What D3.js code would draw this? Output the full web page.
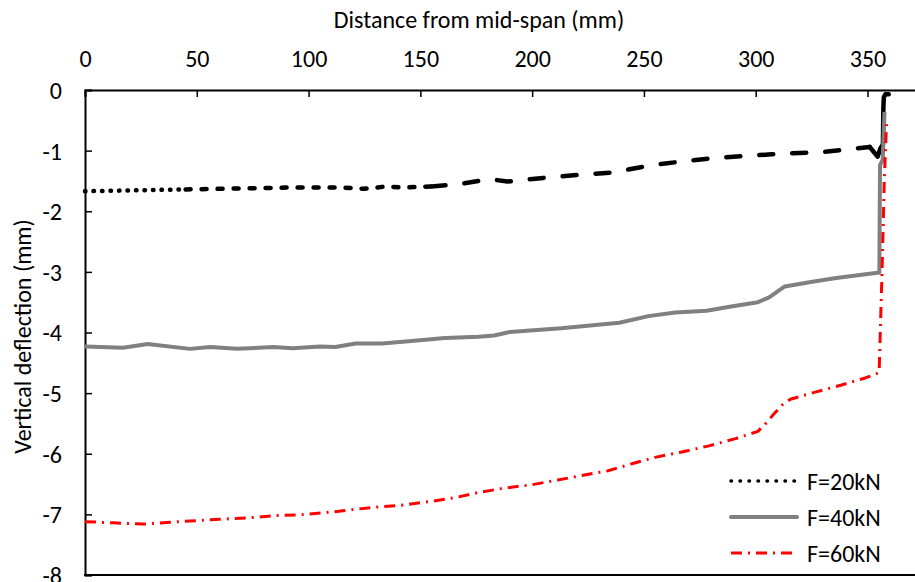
<!DOCTYPE html>
<html>
<head>
<meta charset="utf-8">
<script src="https://cdn.jsdelivr.net/npm/d3@7"></script>
<style>
  body { margin: 0; background: #fff; }
  svg { display: block; font-family: Carlito, Calibri, Lato, sans-serif; }
  .tick-label { font-size: 24px; fill: #000; }
  .axis-title { font-size: 24px; fill: #000; }
  .legend-label { font-size: 24px; fill: #000; }
</style>
</head>
<body>
<div id="chart"></div>
<script>

/*
----------------------------------------------------------------------------------------
--- DATA
----------------------------------------------------------------------------------------
*/

var seriesNames = ['F=20kN', 'F=40kN', 'F=60kN'];

// F=20kN: distance from mid-span (mm) and vertical deflection (mm)
var distF20 = [0, 15, 30, 45, 60, 75, 90, 105, 115, 125, 135, 142, 155, 168, 181, 189, 205, 221, 236, 255, 279, 307, 331, 351, 354.5, 355.8, 356.9, 357.1, 357.3, 358, 359.5];
var defF20 = [-1.67, -1.66, -1.65, -1.64, -1.63, -1.62, -1.61, -1.61, -1.61, -1.63, -1.59, -1.61, -1.59, -1.55, -1.47, -1.51, -1.45, -1.40, -1.36, -1.23, -1.13, -1.06, -1.02, -0.94, -1.10, -0.96, -0.90, -0.30, -0.12, -0.07, -0.07];

// F=40kN
var distF40 = [0, 17, 28, 47, 56, 68, 84, 93, 105, 112, 121, 133, 146, 161, 176, 183, 190, 213, 239, 252, 264, 278, 289, 301, 306, 313, 324, 336, 355.3, 355.6, 356.8, 357.6];
var defF40 = [-4.23, -4.25, -4.19, -4.27, -4.24, -4.27, -4.24, -4.26, -4.23, -4.24, -4.18, -4.18, -4.14, -4.09, -4.07, -4.05, -3.99, -3.93, -3.84, -3.73, -3.67, -3.64, -3.57, -3.50, -3.42, -3.24, -3.17, -3.10, -3.01, -1.24, -1.15, -0.36];

// F=60kN
var distF60 = [0, 12.6, 26, 38, 47, 60, 72, 86, 95, 108, 120, 130, 141, 154, 166, 176, 187, 200, 212, 222, 234, 245, 255, 267, 279, 291, 301, 304, 308, 312, 315.5, 327, 338, 349, 354, 355.2, 356.5, 357.5, 358.5];
var defF60 = [-7.12, -7.14, -7.16, -7.13, -7.11, -7.08, -7.06, -7.02, -7.01, -6.97, -6.92, -6.88, -6.85, -6.79, -6.72, -6.64, -6.57, -6.51, -6.43, -6.36, -6.28, -6.16, -6.06, -5.97, -5.87, -5.75, -5.63, -5.52, -5.35, -5.19, -5.10, -4.98, -4.87, -4.75, -4.68, -4.66, -3.00, -1.50, -0.55];

// axis ticks
var xTicks = [0, 50, 100, 150, 200, 250, 300, 350];
var yTicks = [0, -1, -2, -3, -4, -5, -6, -7, -8];


/*
----------------------------------------------------------------------------------------
--- PROPERTIES
----------------------------------------------------------------------------------------
*/

var width = 915;
var height = 582;
var plot = {'left': 85, 'top': 90, 'bottom': 575}; // plot area, right side runs off the picture
var tickSize = 7;

var x = d3.scaleLinear().domain([0, 400]).range([plot.left, plot.left + 400 * (867.5 - plot.left) / 350]);
var y = d3.scaleLinear().domain([0, -8]).range([plot.top, plot.bottom]);

var zip = function(xs, ys) {
  return xs.map(function(d, i) { return {'x': d, 'y': ys[i]}; });
};

var line = d3.line()
  .x(function(d) { return x(d.x); })
  .y(function(d) { return y(d.y); });

var svg = d3.select('#chart').append('svg')
  .attr('width', width)
  .attr('height', height);


/*
----------------------------------------------------------------------------------------
--- AXES
----------------------------------------------------------------------------------------
*/

// top axis (x axis crosses at 0)
var xAxis = svg.append('g')
  .attr('transform', 'translate(0,' + plot.top + ')')
  .call(d3.axisTop(x).tickValues(xTicks).tickSize(-tickSize).tickPadding(23).tickFormat(function(d) { return String(d); }));

var yAxis = svg.append('g')
  .attr('transform', 'translate(' + plot.left + ',0)')
  .call(d3.axisLeft(y).tickValues(yTicks).tickSize(-tickSize).tickPadding(23).tickFormat(function(d) { return String(d); }));

[xAxis, yAxis].forEach(function(ax) {
  ax.attr('font-family', null).attr('font-size', null);
  ax.select('.domain').attr('stroke', '#000').attr('stroke-width', 2);
  ax.selectAll('.tick line').attr('stroke', '#000').attr('stroke-width', 1.5);
  ax.selectAll('.tick text').attr('class', 'tick-label').attr('fill', '#000');
});
yAxis.selectAll('.tick text').attr('dy', '0.35em');

// bottom border of the plot area
svg.append('line')
  .attr('x1', plot.left - 1).attr('x2', width)
  .attr('y1', plot.bottom).attr('y2', plot.bottom)
  .attr('stroke', '#000')
  .attr('stroke-width', 2);

// axis titles
svg.append('text')
  .attr('class', 'axis-title')
  .attr('x', 479)
  .attr('y', 28)
  .attr('text-anchor', 'middle')
  .text('Distance from mid-span (mm)');

svg.append('text')
  .attr('class', 'axis-title')
  .attr('transform', 'translate(31,' + ((plot.top + plot.bottom) / 2 + 4) + ') rotate(-90)')
  .attr('text-anchor', 'middle')
  .text('Vertical deflection (mm)');


/*
----------------------------------------------------------------------------------------
--- SERIES
----------------------------------------------------------------------------------------
*/

var series = svg.append('g');

// F=20kN: the dash pattern changes along the line, so draw it in pieces
var f20 = zip(distF20, defF20);
var f20Pieces = [
  {'from': 0, 'to': 45, 'dash': '0.5,8'},
  {'from': 45, 'to': 155, 'dash': '5,11'},
  {'from': 155, 'to': 351, 'dash': '14,19'},
  {'from': 351, 'to': 400, 'dash': null}
];
f20Pieces.forEach(function(p) {
  series.append('path')
    .datum(f20.filter(function(d) { return d.x >= p.from && d.x <= p.to; }))
    .attr('d', line)
    .attr('fill', 'none')
    .attr('stroke', '#000')
    .attr('stroke-width', 4.5)
    .attr('stroke-linecap', 'round')
    .attr('stroke-linejoin', 'round')
    .attr('stroke-dasharray', p.dash);
});

series.append('path')
  .datum(zip(distF40, defF40))
  .attr('d', line)
  .attr('fill', 'none')
  .attr('stroke', '#808080')
  .attr('stroke-width', 4)
  .attr('stroke-linejoin', 'round');

series.append('path')
  .datum(zip(distF60, defF60))
  .attr('d', line)
  .attr('fill', 'none')
  .attr('stroke', '#ff0000')
  .attr('stroke-width', 3)
  .attr('stroke-dasharray', '11,6,2,6')
  .attr('stroke-linejoin', 'round');


/*
----------------------------------------------------------------------------------------
--- LEGEND
----------------------------------------------------------------------------------------
*/

var legendStyles = [
  {'stroke': '#000', 'width': 3.5, 'dash': '0.5,8.5', 'cap': 'round'},
  {'stroke': '#808080', 'width': 4, 'dash': null, 'cap': 'round'},
  {'stroke': '#ff0000', 'width': 3, 'dash': '11,6,2,6', 'cap': 'butt'}
];

var legend = svg.append('g');
seriesNames.forEach(function(name, i) {
  var ly = 481 + i * 36;
  var s = legendStyles[i];
  legend.append('line')
    .attr('x1', 731).attr('x2', 797)
    .attr('y1', ly).attr('y2', ly)
    .attr('stroke', s.stroke)
    .attr('stroke-width', s.width)
    .attr('stroke-linecap', s.cap)
    .attr('stroke-dasharray', s.dash);
  legend.append('text')
    .attr('class', 'legend-label')
    .attr('x', 807)
    .attr('y', ly + 9)
    .text(name);
});

</script>
</body>
</html>
